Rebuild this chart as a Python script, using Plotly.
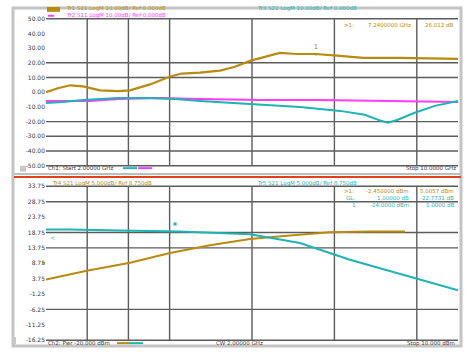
import plotly.graph_objects as go

W, H = 467, 352

# ---------------- data ----------------
# top channel: frequency sweep (GHz)
top_orange_f = [2.00, 2.23, 2.47, 2.72, 3.05, 3.40, 3.63, 4.02, 4.41, 4.64, 4.99, 5.38, 5.67, 5.96, 6.25, 6.54, 6.87, 7.24, 7.71, 8.16, 8.87, 10.0]
top_orange_v = [0.0, 2.7, 4.7, 4.0, 1.3, 0.7, 1.3, 5.3, 10.7, 12.7, 13.3, 14.7, 17.3, 21.3, 24.0, 26.7, 26.0, 26.0, 24.7, 23.3, 23.3, 22.7]

top_cyan_f = [2.00, 2.33, 2.72, 3.40, 4.02, 4.51, 4.99, 5.96, 6.93, 7.71, 8.19, 8.49, 8.64, 8.83, 9.16, 9.55, 10.0]
top_cyan_v = [-7.3, -6.7, -5.3, -4.0, -4.0, -4.7, -6.0, -8.0, -10.0, -12.7, -15.3, -19.3, -20.7, -18.7, -14.0, -9.3, -6.0]

top_mag_f = [2.00, 2.85, 3.40, 4.21, 4.99, 6.16, 7.32, 8.87, 10.0]
top_mag_v = [-6.0, -6.0, -4.7, -4.0, -4.7, -5.3, -5.3, -6.0, -6.7]

top_ticks = [50, 40, 30, 20, 10, 0, -10, -20, -30, -40, -50]
top_tick_text = ["50.00", "40.00", "30.00", "20.00", "10.00", "0.00", "-10.00", "-20.00", "-30.00", "-40.00", "-50.00"]
top_grid_y = [20, 10, -20, -30, -40]
top_marker_f, top_marker_v = 7.24, 26.0

# bottom channel: power sweep (dBm)
bot_cyan_p = [-20.0, -18.25, -14.61, -10.24, -5.15, -1.51, 2.13, 5.78, 7.96, 10.0]
bot_cyan_v = [19.7, 19.7, 19.4, 19.1, 18.2, 15.3, 9.9, 5.4, 2.6, 0.0]

bot_orange_p = [-20.0, -16.94, -13.88, -10.97, -8.06, -5.15, -2.23, 0.68, 3.59, 6.14]
bot_orange_v = [3.5, 6.4, 8.9, 12.1, 14.6, 16.6, 17.8, 18.8, 19.1, 19.1]

bot_ticks = [33.75, 28.75, 23.75, 18.75, 13.75, 8.75, 3.75, -1.25, -6.25, -11.25, -16.25]
bot_tick_text = ["33.75", "28.75", "23.75", "18.75", "13.75", "8.75", "3.75", "-1.25", "-6.25", "-11.25", "-16.25"]
bot_grid_y = [28.75, 18.75, 13.75, -6.25]
bot_marker_p, bot_marker_v = -10.6, 21.5

grid_div_x = [1, 2, 3, 5, 7, 9]  # visible vertical divisions (of 10)

ORANGE = "#b98a10"
CYAN = "#1fb3b3"
MAGENTA = "#ff3cff"
GRID = "#5c5c5c"
FONT = "DejaVu Sans"

fig = go.Figure()
fig.add_trace(go.Scatter(x=top_mag_f, y=top_mag_v, mode="lines", line=dict(color=MAGENTA, width=2), xaxis="x", yaxis="y"))
fig.add_trace(go.Scatter(x=top_cyan_f, y=top_cyan_v, mode="lines", line=dict(color=CYAN, width=2), xaxis="x", yaxis="y"))
fig.add_trace(go.Scatter(x=top_orange_f, y=top_orange_v, mode="lines", line=dict(color=ORANGE, width=2.2), xaxis="x", yaxis="y"))
fig.add_trace(go.Scatter(x=[top_marker_f], y=[top_marker_v], mode="markers+text", text=["1"], textposition="top center",
                         textfont=dict(size=7, color=ORANGE, family=FONT),
                         marker=dict(symbol="triangle-down", size=4, color=ORANGE), xaxis="x", yaxis="y"))

fig.add_trace(go.Scatter(x=bot_orange_p, y=bot_orange_v, mode="lines", line=dict(color=ORANGE, width=2), xaxis="x2", yaxis="y2"))
fig.add_trace(go.Scatter(x=bot_cyan_p, y=bot_cyan_v, mode="lines", line=dict(color=CYAN, width=2), xaxis="x2", yaxis="y2"))
fig.add_trace(go.Scatter(x=[bot_marker_p], y=[bot_marker_v], mode="markers", marker=dict(symbol="square", size=3, color=CYAN),
                         xaxis="x2", yaxis="y2"))

xd = [46 / W, 458 / W]
top_dom = [1 - 165 / H, 1 - 15 / H]
bot_dom = [1 - 343 / H, 1 - 186 / H]

axfont = dict(size=6, color="#3a3a3a", family=FONT)
fig.update_layout(
    width=W, height=H, margin=dict(l=0, r=0, t=0, b=0),
    paper_bgcolor="white", plot_bgcolor="white", showlegend=False,
    xaxis=dict(domain=xd, range=[2, 10], showgrid=False, zeroline=False, showticklabels=False, ticks="", anchor="y"),
    yaxis=dict(domain=top_dom, range=[-50, 50], showgrid=False, zeroline=False, tickvals=top_ticks, ticktext=top_tick_text,
               tickfont=axfont, ticks="", anchor="x"),
    xaxis2=dict(domain=xd, range=[-20, 10], showgrid=False, zeroline=False, showticklabels=False, ticks="", anchor="y2"),
    yaxis2=dict(domain=bot_dom, range=[-16.25, 33.75], showgrid=False, zeroline=False, tickvals=bot_ticks, ticktext=bot_tick_text,
                tickfont=axfont, ticks="", anchor="x2"),
)

shapes = []
# grid lines (visible subset)
for xa, ya, gy in (("x", "y", top_grid_y), ("x2", "y2", bot_grid_y)):
    for d in grid_div_x:
        shapes.append(dict(type="line", xref=xa + " domain", yref=ya + " domain", x0=d / 10, x1=d / 10, y0=0, y1=1,
                           line=dict(color=GRID, width=1.4), layer="below"))
    for v in gy:
        shapes.append(dict(type="line", xref=xa + " domain", yref=ya, x0=0, x1=1, y0=v, y1=v,
                           line=dict(color=GRID, width=1.4), layer="below"))
    for yy in (0, 1):
        shapes.append(dict(type="line", xref=xa + " domain", yref=ya + " domain", x0=0, x1=1, y0=yy, y1=yy,
                           line=dict(color=GRID, width=1.4), layer="below"))

def px(x):
    return x / W

def py(y):
    return 1 - y / H

# outer frame
shapes.append(dict(type="rect", xref="paper", yref="paper", x0=px(13), x1=px(461), y0=py(349), y1=py(4),
                   line=dict(color="#c4c4c4", width=3)))
# channel separator
shapes.append(dict(type="line", xref="paper", yref="paper", x0=px(14), x1=px(461), y0=py(173.5), y1=py(173.5),
                   line=dict(color="#bdbdbd", width=2)))
shapes.append(dict(type="line", xref="paper", yref="paper", x0=px(14), x1=px(461), y0=py(176.5), y1=py(176.5),
                   line=dict(color="#e0401c", width=2)))
# small grey boxes
shapes.append(dict(type="rect", xref="paper", yref="paper", x0=px(20), x1=px(26), y0=py(171), y1=py(165),
                   line=dict(width=0), fillcolor="#c8c8c8"))
shapes.append(dict(type="rect", xref="paper", yref="paper", x0=px(12), x1=px(16), y0=py(347), y1=py(340),
                   line=dict(width=0), fillcolor="#c8c8c8"))
# trace legend swatches
shapes.append(dict(type="rect", xref="paper", yref="paper", x0=px(47), x1=px(60), y0=py(8), y1=py(3),
                   line=dict(width=0), fillcolor=ORANGE))
shapes.append(dict(type="line", xref="paper", yref="paper", x0=px(48), x1=px(54), y0=py(12), y1=py(12),
                   line=dict(color=MAGENTA, width=2)))
shapes.append(dict(type="line", xref="paper", yref="paper", x0=px(123), x1=px(137), y0=py(167.5), y1=py(167.5),
                   line=dict(color=CYAN, width=2)))
shapes.append(dict(type="line", xref="paper", yref="paper", x0=px(138), x1=px(152), y0=py(167.5), y1=py(167.5),
                   line=dict(color=MAGENTA, width=2)))
shapes.append(dict(type="line", xref="paper", yref="paper", x0=px(117), x1=px(130), y0=py(346), y1=py(346),
                   line=dict(color=ORANGE, width=2)))
shapes.append(dict(type="line", xref="paper", yref="paper", x0=px(130), x1=px(143), y0=py(346), y1=py(346),
                   line=dict(color=CYAN, width=2)))
# reference-level indicator (orange) at left edge of lower channel
shapes.append(dict(type="line", xref="paper", yref="paper", x0=px(42), x1=px(45), y0=py(264), y1=py(264),
                   line=dict(color=ORANGE, width=2)))
fig.update_layout(shapes=shapes)

def txt(x, y, s, color, size=5.5, anchor="left"):
    return dict(x=px(x), y=py(y), xref="paper", yref="paper", text=s, showarrow=False, xanchor=anchor, yanchor="middle",
                font=dict(size=size, color=color, family=FONT))

ann = [
    txt(64, 5, "Tr1 S21 LogM 10.00dB/ Ref 0.000dB", ORANGE),
    txt(64, 12, "Tr2 S11 LogM 10.00dB/ Ref 0.000dB", MAGENTA),
    txt(255, 5, "Tr3 S22 LogM 10.00dB/ Ref 0.000dB", CYAN),
    txt(342, 21, ">1:", ORANGE),
    txt(366, 21, "7.2400000 GHz", ORANGE),
    txt(455, 21, "26.012 dB", ORANGE, anchor="right"),
    txt(46, 167.5, "Ch1: Start 2.00000 GHz", "#3a3a3a"),
    txt(458, 167.5, "Stop 10.0000 GHz", "#3a3a3a", anchor="right"),
    txt(50, 183, "Tr4 S21 LogM 5.000dB/ Ref 8.750dB", ORANGE),
    txt(255, 183, "Tr5 S21 LogM 5.000dB/ Ref 8.750dB", CYAN),
    txt(342, 191, ">1:", ORANGE),
    txt(411, 191, "-2.450000 dBm", ORANGE, anchor="right"),
    txt(456, 191, "5.0057 dBm", ORANGE, anchor="right"),
    txt(344, 198, "GL:", CYAN),
    txt(411, 198, "1.00000 dB", CYAN, anchor="right"),
    txt(456, 198, "-22.7731 dB", CYAN, anchor="right"),
    txt(350, 205, "1", CYAN),
    txt(411, 205, "-24.0000 dBm", CYAN, anchor="right"),
    txt(456, 205, "1.0000 dB", CYAN, anchor="right"),
    txt(46, 346, "Ch2: Pwr -20.000 dBm", "#3a3a3a"),
    txt(214, 346, "CW 2.00000 GHz", "#3a3a3a"),
    txt(457, 346, "Stop 10.000 dBm", "#3a3a3a", anchor="right"),
    txt(48, 238, "<", CYAN, size=6),
]
fig.update_layout(annotations=ann)

fig.write_html("out.html", config={"displayModeBar": False},
               post_script="document.body.style.margin='0';document.body.style.overflow='hidden';")
